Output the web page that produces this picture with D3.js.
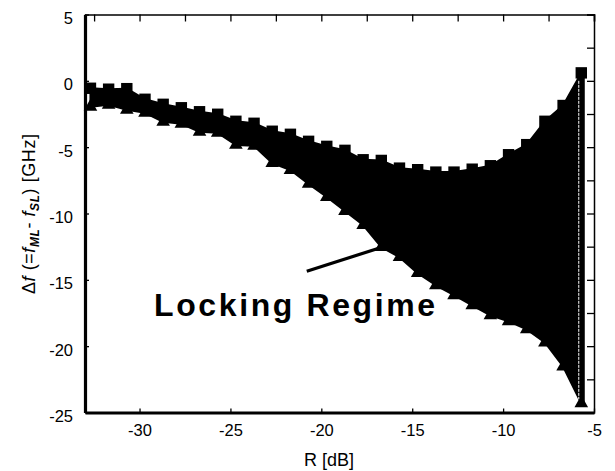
<!DOCTYPE html>
<html>
<head>
<meta charset="utf-8">
<script src="https://cdnjs.cloudflare.com/ajax/libs/d3/7.8.5/d3.min.js"></script>
<style>
  body { margin: 0; background: #fff; }
  text { font-family: "Liberation Sans", Arial, sans-serif; fill: #000; }
</style>
</head>
<body>
<div id="chart"></div>
<script>
// R [dB] of each measured point
const rDb = [-32.7, -31.7, -30.7, -29.7, -28.7, -27.7, -26.7, -25.7, -24.7, -23.7,
             -22.7, -21.7, -20.7, -19.7, -18.7, -17.7, -16.7, -15.7, -14.7, -13.7,
             -12.7, -11.7, -10.7, -9.7, -8.7, -7.7, -6.7, -5.7];
// upper edge of locking range (squares)
const upperGHz = [-0.56, -0.63, -0.59, -1.39, -1.77, -2.03, -2.33, -2.52, -3.05, -3.2,
                  -3.8, -4.03, -4.56, -4.94, -5.24, -5.95, -6.0, -6.58, -6.7, -6.88,
                  -6.88, -6.66, -6.4, -5.57, -4.81, -3.05, -1.86, 0.6];
// lower edge of locking range (triangles)
const lowerGHz = [-1.95, -1.8, -2.18, -2.41, -3.09, -3.24, -3.84, -3.92, -4.83, -4.9,
                  -6.19, -6.72, -7.77, -8.76, -9.81, -10.87, -12.54, -13.29, -14.5, -15.41,
                  -16.16, -16.92, -17.68, -18.13, -18.73, -19.72, -21.53, -24.3];

const xTicks = [-30, -25, -20, -15, -10, -5];
const yTicks = [5, 0, -5, -10, -15, -20, -25];
const xMinor = [-32.5, -30, -27.5, -25, -22.5, -20, -17.5, -15, -12.5, -10, -7.5, -5];
const yMinor = [5, 2.5, 0, -2.5, -5, -7.5, -10, -12.5, -15, -17.5, -20, -22.5, -25];

// annotation: label anchor and leader line, in data units
const labelText = "Locking Regime";
const labelAt = [-29.2, -17.75];
const leaderFrom = [-20.8, -14.35];
const leaderTo = [-16.8, -12.6];

const width = 615, height = 471;
const plot = { left: 85, right: 594, top: 14.5, bottom: 412.5 };

const data = rDb.map((r, i) => ({ r: r, hi: upperGHz[i], lo: lowerGHz[i] }));

const x = d3.scaleLinear().domain([-33, -5]).range([plot.left, plot.right]);
const y = d3.scaleLinear().domain([-25, 5]).range([plot.bottom, plot.top]);

// plain hyphen minus like the original
const fmt = d => String(d);

const svg = d3.select("#chart").append("svg")
    .attr("width", width)
    .attr("height", height);

// filled locking region
const area = d3.area()
    .x(d => x(d.r))
    .y0(d => y(d.lo))
    .y1(d => y(d.hi));

svg.append("path")
    .datum(data)
    .attr("d", area)
    .attr("fill", "#000")
    .attr("stroke", "#000")
    .attr("stroke-width", 2)
    .attr("stroke-linejoin", "round");

// last column drawn as a bar of its own
const last = data[data.length - 1];
svg.append("line")
    .attr("x1", x(last.r) + 1).attr("x2", x(last.r) + 1)
    .attr("y1", y(last.hi)).attr("y2", y(last.lo))
    .attr("stroke", "#000")
    .attr("stroke-width", 5);

// markers
svg.selectAll(".sq")
    .data(data)
    .enter().append("path")
    .attr("class", "sq")
    .attr("transform", d => "translate(" + x(d.r) + "," + y(d.hi) + ")")
    .attr("d", d3.symbol().type(d3.symbolSquare).size(130))
    .attr("fill", "#000");

svg.selectAll(".tri")
    .data(data)
    .enter().append("path")
    .attr("class", "tri")
    .attr("transform", d => "translate(" + x(d.r) + "," + y(d.lo) + ")")
    .attr("d", d3.symbol().type(d3.symbolTriangle).size(80))
    .attr("fill", "#000");

// thin white gap next to the last column (seen in the original)
svg.append("line")
    .attr("x1", x(last.r) - 2.5).attr("x2", x(last.r) - 2.5)
    .attr("y1", y(0)).attr("y2", y(last.lo) - 4)
    .attr("stroke", "#fff")
    .attr("stroke-width", 1)
    .attr("stroke-dasharray", "3,1");

// frame: top and right, thin with inward ticks
svg.append("g")
    .attr("transform", "translate(0," + plot.top + ")")
    .call(d3.axisTop(x).tickValues(xMinor).tickSize(-7).tickFormat(""))
    .call(g => g.select(".domain").attr("stroke-width", 1.5))
    .call(g => g.selectAll(".tick line").attr("stroke-width", 1.3));

svg.append("g")
    .attr("transform", "translate(" + plot.right + ",0)")
    .call(d3.axisRight(y).tickValues(yMinor).tickSize(-7).tickFormat(""))
    .call(g => g.select(".domain").attr("stroke-width", 1.5))
    .call(g => g.selectAll(".tick line").attr("stroke-width", 1.3));

// left and bottom: thick lines with labels
svg.append("g")
    .attr("transform", "translate(0," + plot.bottom + ")")
    .call(d3.axisBottom(x).tickValues(xTicks).tickFormat(fmt).tickSize(-4).tickPadding(12).tickSizeOuter(0))
    .call(g => g.select(".domain").attr("stroke-width", 3.2))
    .call(g => g.selectAll(".tick line").attr("stroke-width", 1.3))
    .call(g => g.selectAll("text").attr("font-size", 16.5).attr("font-family", "Liberation Sans, Arial, sans-serif"));

svg.append("g")
    .attr("transform", "translate(" + plot.left + ",0)")
    .call(d3.axisLeft(y).tickValues(yTicks).tickFormat(fmt).tickSize(-4).tickPadding(12).tickSizeOuter(0))
    .call(g => g.select(".domain").attr("stroke-width", 3.2))
    .call(g => g.selectAll(".tick line").attr("stroke-width", 1.3))
    .call(g => g.selectAll("text").attr("font-size", 16.5).attr("dy", "0.55em").attr("font-family", "Liberation Sans, Arial, sans-serif"));

// leader line and label
svg.append("line")
    .attr("x1", x(leaderFrom[0])).attr("y1", y(leaderFrom[1]))
    .attr("x2", x(leaderTo[0])).attr("y2", y(leaderTo[1]))
    .attr("stroke", "#000")
    .attr("stroke-width", 3.2);

svg.append("text")
    .attr("x", x(labelAt[0]))
    .attr("y", y(labelAt[1]))
    .attr("font-size", 32)
    .attr("font-weight", "bold")
    .attr("letter-spacing", 2.6)
    .text(labelText);

// axis titles
svg.append("text")
    .attr("x", 329)
    .attr("y", 466)
    .attr("text-anchor", "middle")
    .attr("font-size", 18)
    .text("R [dB]");

const yl = svg.append("text")
    .attr("transform", "translate(35,214) rotate(-90)")
    .attr("text-anchor", "middle")
    .attr("font-size", 18)
    .attr("textLength", 160)
    .attr("lengthAdjust", "spacing");
yl.append("tspan").text("\u0394");
yl.append("tspan").attr("font-style", "italic").text("f");
yl.append("tspan").text(" (=");
yl.append("tspan").attr("font-style", "italic").text("f");
yl.append("tspan").attr("font-style", "italic").attr("font-weight", "bold").attr("font-size", 12).attr("dy", 4).text("ML");
yl.append("tspan").attr("dy", -4).text("- ");
yl.append("tspan").attr("font-style", "italic").text("f");
yl.append("tspan").attr("font-style", "italic").attr("font-weight", "bold").attr("font-size", 12).attr("dy", 4).text("SL");
yl.append("tspan").attr("dy", -4).text(") [GHz]");
</script>
</body>
</html>
